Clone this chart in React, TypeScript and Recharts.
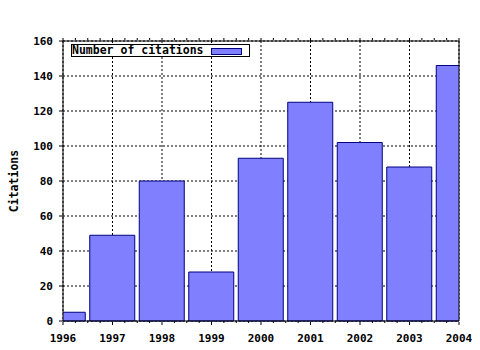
import React from 'react';
import { BarChart, Bar, XAxis, YAxis, CartesianGrid, Legend } from 'recharts';

const years = [1996, 1997, 1998, 1999, 2000, 2001, 2002, 2003, 2004];
const citations = [5, 49, 80, 28, 93, 125, 102, 88, 146];
const yTicks = [0, 20, 40, 60, 80, 100, 120, 140, 160];
const minorYearTicks = years.flatMap((y) => [y + 0.25, y + 0.5, y + 0.75]).filter((v) => v < 2004);

const seriesName = 'Number of citations';
const yTitle = 'Citations';

const data = years.map((year, i) => ({ year, citations: citations[i] }));

const FONT = '"DejaVu Sans Mono", "Liberation Mono", monospace';
const tickStyle = { fill: '#000', fontFamily: FONT, fontWeight: 'bold' as const, fontSize: 11 };
const BAR_FILL = '#8080FF';
const BAR_STROKE = '#000080';

const NoTick = () => <g />;

const LegendBox = () => (
  <div
    style={{
      position: 'relative',
      boxSizing: 'border-box',
      width: 179,
      height: 13,
      border: '1px solid #000',
      background: '#fff',
    }}
  >
    <span
      style={{
        position: 'absolute',
        left: 0,
        top: -1,
        lineHeight: '13px',
        fontFamily: FONT,
        fontWeight: 'bold',
        fontSize: 11.5,
        color: '#000',
        whiteSpace: 'nowrap',
      }}
    >
      {seriesName}
    </span>
    <span
      style={{
        position: 'absolute',
        left: 139,
        top: 3,
        width: 31,
        height: 7,
        boxSizing: 'border-box',
        background: BAR_FILL,
        border: `1px solid ${BAR_STROKE}`,
      }}
    />
  </div>
);

const YTitle = (props: any) => {
  const vb = props.viewBox || { y: 41, height: 280 };
  const cy = vb.y + vb.height / 2;
  return (
    <text
      x={18}
      y={cy}
      transform={`rotate(-90, 18, ${cy})`}
      textAnchor="middle"
      fill="#000"
      fontFamily={FONT}
      fontWeight="bold"
      fontSize={11.5}
    >
      {yTitle}
    </text>
  );
};

export default function App() {
  return (
    <div style={{ position: 'absolute', left: 0, top: 0, width: 480, height: 350, background: '#fff' }}>
      <BarChart width={480} height={350} data={data} margin={{ top: 39, right: 20, bottom: 0, left: 0 }}>
        <CartesianGrid xAxisId="top" stroke="#000" strokeDasharray="2 2" />
        <XAxis
          dataKey="year"
          type="number"
          domain={[1996, 2004]}
          allowDataOverflow
          ticks={minorYearTicks}
          interval={0}
          height={1}
          tick={NoTick}
          tickSize={2}
          axisLine={{ stroke: '#000' }}
          tickLine={{ stroke: '#000' }}
        />
        <XAxis
          xAxisId="labels"
          dataKey="year"
          type="number"
          domain={[1996, 2004]}
          allowDataOverflow
          ticks={years}
          interval={0}
          height={28}
          tickSize={3}
          tickMargin={9}
          tick={tickStyle}
          axisLine={false}
          tickLine={{ stroke: '#000' }}
        />
        <XAxis
          xAxisId="top"
          dataKey="year"
          orientation="top"
          type="number"
          domain={[1996, 2004]}
          allowDataOverflow
          ticks={years}
          interval={0}
          height={1}
          tick={NoTick}
          tickSize={3}
          axisLine={{ stroke: '#000' }}
          tickLine={{ stroke: '#000' }}
        />
        <XAxis
          xAxisId="topMinor"
          dataKey="year"
          orientation="top"
          type="number"
          domain={[1996, 2004]}
          allowDataOverflow
          ticks={minorYearTicks}
          interval={0}
          height={1}
          tick={NoTick}
          tickSize={2}
          axisLine={false}
          tickLine={{ stroke: '#000' }}
        />
        <YAxis
          type="number"
          domain={[0, 160]}
          ticks={yTicks}
          interval={0}
          width={63}
          tickSize={4}
          tickMargin={6}
          tick={tickStyle}
          axisLine={{ stroke: '#000' }}
          tickLine={{ stroke: '#000' }}
          label={{ content: YTitle }}
        />
        <YAxis
          yAxisId="right"
          orientation="right"
          type="number"
          domain={[0, 160]}
          width={1}
          tick={false}
          tickLine={false}
          axisLine={{ stroke: '#000' }}
        />
        <Legend
          layout="horizontal"
          verticalAlign="middle"
          align="center"
          wrapperStyle={{ left: 71, top: 44, width: 179, height: 13 }}
          content={LegendBox}
        />
        <Bar
          dataKey="citations"
          name={seriesName}
          fill={BAR_FILL}
          stroke={BAR_STROKE}
          strokeWidth={1}
          barSize={45}
          isAnimationActive={false}
        />
      </BarChart>
    </div>
  );
}
